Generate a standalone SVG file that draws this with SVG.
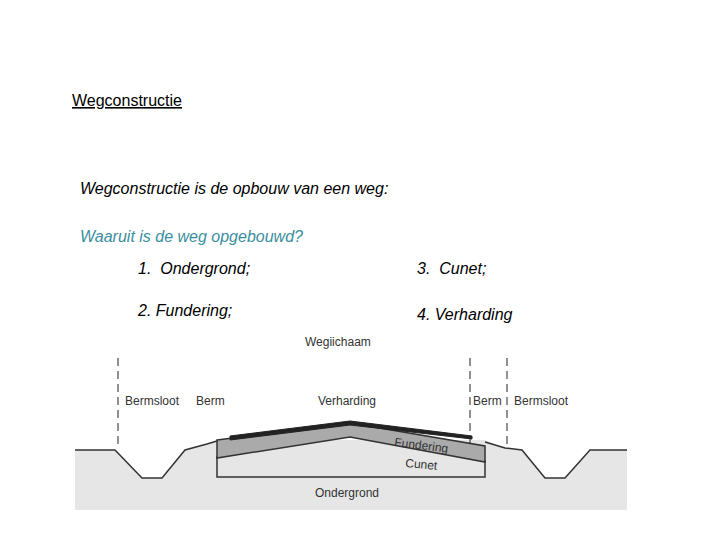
<svg xmlns="http://www.w3.org/2000/svg" width="720" height="540" viewBox="0 0 720 540">
<style>
.t{font-family:"Liberation Sans",Arial,sans-serif;font-size:16px;fill:#000}
.f{font-family:"Liberation Sans",Arial,sans-serif;font-size:12px;fill:#333}
.d{stroke:#222;stroke-width:1;stroke-dasharray:8,5;fill:none}
</style>
<rect width="720" height="540" fill="#fff"/>
<text x="72" y="106" class="t" font-size="18" text-decoration="underline">Wegconstructie</text>
<text x="80" y="194" class="t" font-style="italic" font-size="18">Wegconstructie is de opbouw van een weg:</text>
<text x="80" y="242" class="t" font-style="italic" style="fill:#3a8ea0">Waaruit is de weg opgebouwd?</text>
<text x="138" y="274" class="t" font-style="italic" xml:space="preserve">1.  Ondergrond;</text>
<text x="417" y="274" class="t" font-style="italic" xml:space="preserve">3.  Cunet;</text>
<text x="138" y="316" class="t" font-style="italic">2. Fundering;</text>
<text x="417" y="320" class="t" font-style="italic">4. Verharding</text>
<g id="figure">
<path d="M75,450 L115,450 L142,478 L162,478 L185,450 L207,444 L217,440 L485,440 L505,448 L522,450 L545,478 L565,478 L590,450 L627,450 L627,510 L75,510 Z" fill="#e6e6e6"/>
<path d="M75,450 L115,450 L142,478 L162,478 L185,450 L207,444 L217,441 M485,442 L505,448 L522,450 L545,478 L565,478 L590,450 L627,450" fill="none" stroke="#333" stroke-width="1.5"/>
<path d="M217,456 V477 H485 V460" fill="none" stroke="#333" stroke-width="1.5"/>
<path d="M217,440 L350,423 L485,446 L485,462 L350,437 L217,458 Z" fill="#aaa" stroke="#333" stroke-width="1.5"/>
<path d="M230,436 L350,421 L472,436 L472,439 L350,425 L230,440 Z" fill="#222" stroke="#222" stroke-width="1"/>
<path class="d" d="M118,358 V448 M470,358 V448 M507,358 V448"/>
<text x="305" y="346" class="f" font-size="15">Wegiichaam</text>
<text x="125" y="405" class="f">Bermsloot</text>
<text x="196" y="405" class="f">Berm</text>
<text x="318" y="405" class="f">Verharding</text>
<text x="473" y="405" class="f">Berm</text>
<text x="514" y="405" class="f">Bermsloot</text>
<text x="394" y="446" class="f" transform="rotate(7 394 446)">Fundering</text>
<text x="405" y="467" class="f" transform="rotate(5 405 467)">Cunet</text>
<text x="315" y="497" class="f">Ondergrond</text>
</g>
</svg>
